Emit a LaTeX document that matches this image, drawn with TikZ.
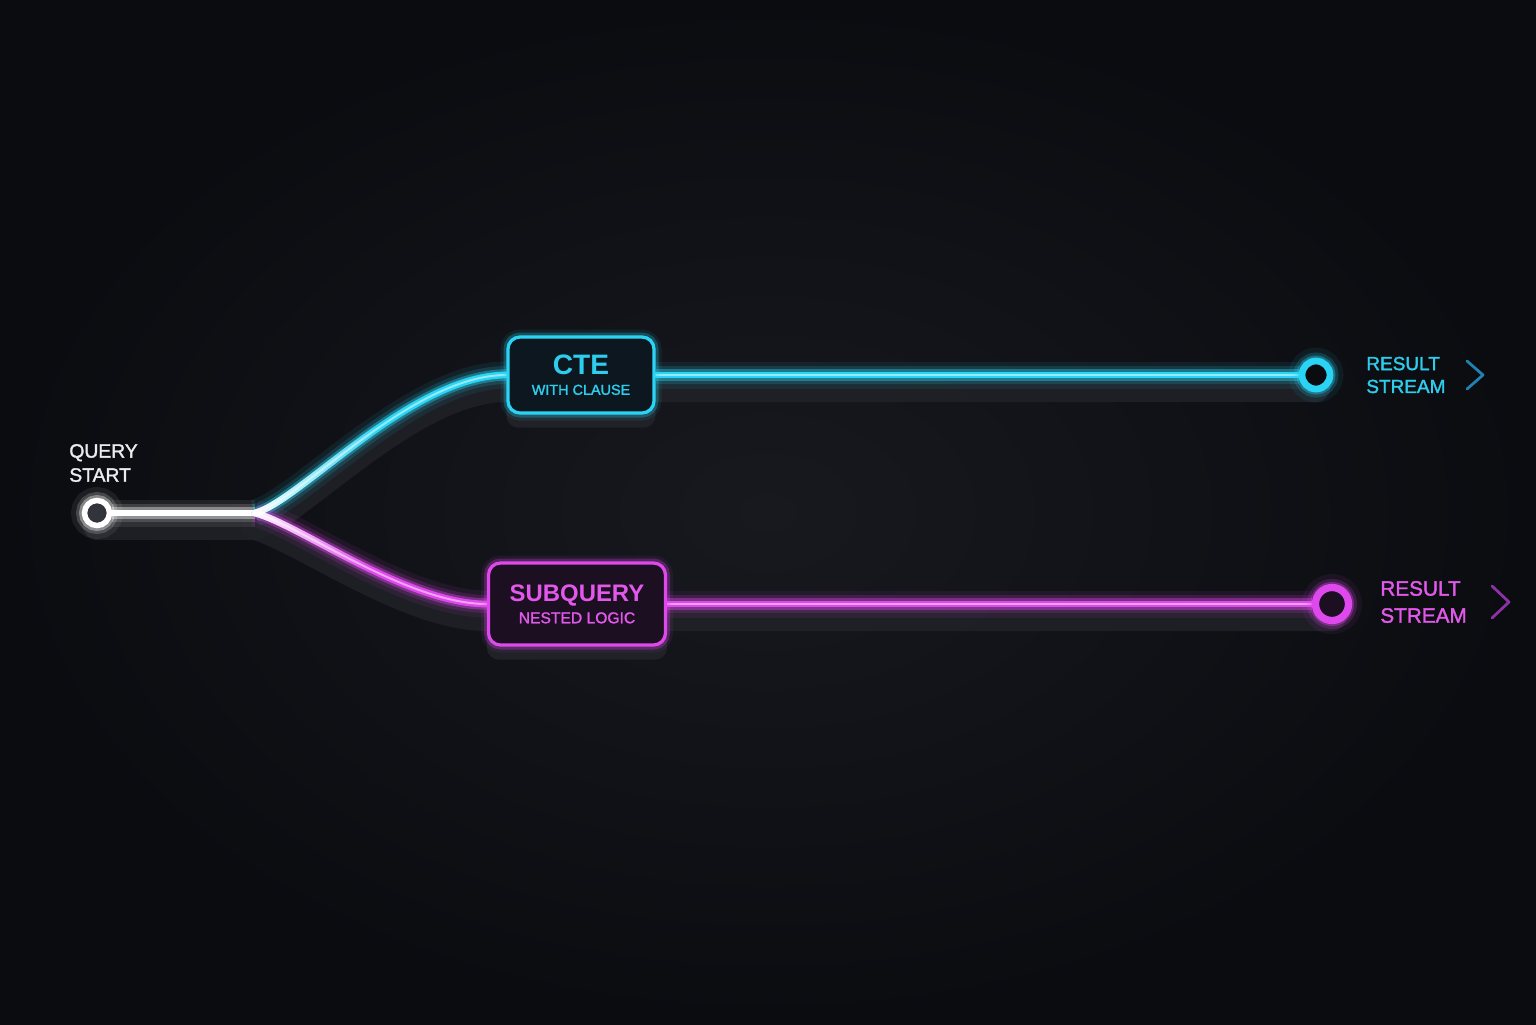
\documentclass[tikz,border=0pt]{standalone}
\usepackage{fontspec}
\setmainfont{Liberation Sans}
\newfontface\medfont{Liberation Sans}[FakeBold=1.6]
\usetikzlibrary{positioning,calc,fadings}

\definecolor{bgdark}{RGB}{11,12,16}
\definecolor{bgmid}{RGB}{23,25,31}
\definecolor{slab}{RGB}{32,34,40}
\definecolor{qtext}{RGB}{236,236,240}
\definecolor{ringfill}{RGB}{50,52,60}
\definecolor{cteblue}{RGB}{42,212,245}
\definecolor{ctetext}{RGB}{45,205,238}
\definecolor{ctebox}{RGB}{13,23,31}
\definecolor{subpink}{RGB}{222,72,236}
\definecolor{subtext}{RGB}{226,88,234}
\definecolor{subbox}{RGB}{27,15,33}
\definecolor{chevblue}{RGB}{32,130,180}
\definecolor{chevpink}{RGB}{140,50,165}

\pgfdeclarelayer{bg}
\pgfdeclarelayer{glow}
\pgfsetlayers{bg,glow,main}

\tikzfading[name=forkfade, left color=transparent!0, right color=transparent!100, middle color=transparent!100]

\tikzset{
  neon/.style={draw=#1, line width=1.35mm, line cap=round,
    preaction={draw=#1, line width=5.4mm, opacity=0.08},
    preaction={draw=#1, line width=3.6mm, opacity=0.15},
    preaction={draw=#1, line width=2.3mm, opacity=0.38},
    postaction={draw=#1!50!white, line width=0.4mm}},
  slabline/.style={draw=slab, line width=5.6mm, line cap=round, opacity=0.85},
  qbox/.style={draw=#1, line width=0.65mm, rounded corners=2.4mm, inner sep=0pt, align=center,
    preaction={draw=#1, line width=3mm, opacity=0.08},
    preaction={draw=#1, line width=1.8mm, opacity=0.25}},
  ring/.style={circle, draw=#1, inner sep=0pt,
    preaction={draw=#1, line width=5.4mm, opacity=0.07},
    preaction={draw=#1, line width=3.4mm, opacity=0.18},
    preaction={draw=#1, line width=2.2mm, opacity=0.35}},
  lbl/.style={anchor=west, align=left, inner sep=0pt},
  chev/.style={draw=#1, line width=0.55mm, line cap=round, line join=round}
}

\begin{document}
\begin{tikzpicture}[x=0.2mm, y=-0.2mm]
  \useasboundingbox (0,0) rectangle (1536,1024);
  \begin{pgfonlayer}{bg}
    \fill[bgdark] (0,0) rectangle (1536,1024);
    \shade[inner color=bgmid, outer color=bgdark] (0,0) rectangle (1536,1024);
  \end{pgfonlayer}

  % start of the query
  \node[ring=white, fill=ringfill, minimum size=5mm, line width=1.1mm] (start) at (97,513) {};
  \node[lbl, text=qtext, font=\medfont\fontsize{11}{13.7}\selectfont] (qstart) at (69,463) {QUERY\\START};
  \coordinate (fork) at (255,513);

  % the two branches
  \node[qbox=cteblue, fill=ctebox, minimum width=29.2mm, minimum height=15.2mm,
        font=\medfont\fontsize{8.2}{11.4}\selectfont, text=ctetext] (cte) at (581,375)
        {{\fontsize{16}{16}\selectfont\rmfamily\bfseries CTE}\\WITH CLAUSE};
  \node[qbox=subpink, fill=subbox, minimum width=35.4mm, minimum height=16.4mm,
        font=\medfont\fontsize{8.9}{12.5}\selectfont, text=subtext] (sub) at (577,604)
        {{\fontsize{13.6}{14}\selectfont\rmfamily\bfseries SUBQUERY}\\NESTED LOGIC};

  % result ends
  \node[ring=cteblue, fill=bgdark, minimum size=5.6mm, line width=1.35mm] (endc) at (1316,375) {};
  \node[ring=subpink, fill=subbox, minimum size=6.6mm, line width=1.45mm] (endm) at (1332,604) {};
  \node[lbl, text=ctetext, font=\medfont\fontsize{10.8}{13}\selectfont] (resc) at (1366,375) {RESULT\\STREAM};
  \node[lbl, text=subtext, font=\medfont\fontsize{11.8}{15.4}\selectfont] (resm) at (1380,602) {RESULT\\STREAM};
  \coordinate (chevc) at (1483,375);
  \coordinate (chevm) at (1509,602);
  \draw[chev=chevblue] ([shift={(-16,-14)}]chevc) -- (chevc) -- ([shift={(-16,14)}]chevc);
  \draw[chev=chevpink] ([shift={(-17,-16)}]chevm) -- (chevm) -- ([shift={(-17,16)}]chevm);

  % raised slabs under the tracks
  \begin{pgfonlayer}{bg}
    \begin{scope}[transform canvas={yshift=-2.6mm}]
      \draw[slabline] (start.center) -- (fork);
      \draw[slabline] (fork) .. controls +(45,-12) and +(-95,0) .. (cte.west) -- (endc.center);
      \draw[slabline] (fork) .. controls +(45,12) and +(-80,0) .. (sub.west) -- (endm.center);
      \fill[slab, rounded corners=2.4mm] (cte.south west) rectangle (cte.north east);
      \fill[slab, rounded corners=2.4mm] (sub.south west) rectangle (sub.north east);
    \end{scope}
  \end{pgfonlayer}

  % glowing tracks
  \begin{pgfonlayer}{glow}
    \draw[neon=white] (start) -- (fork);
    \draw[neon=cteblue] (fork) .. controls +(45,-12) and +(-95,0) .. (cte.west);
    \draw[neon=subpink] (fork) .. controls +(45,12) and +(-80,0) .. (sub.west);
    \draw[white, line width=1.35mm, line cap=round, path fading=forkfade]
      (fork) .. controls +(45,-12) and +(-95,0) .. (cte.west);
    \draw[white, line width=1.35mm, line cap=round, path fading=forkfade]
      (fork) .. controls +(45,12) and +(-80,0) .. (sub.west);
    \draw[neon=cteblue] (cte.east) -- (endc);
    \draw[neon=subpink] (sub.east) -- (endm);
  \end{pgfonlayer}
\end{tikzpicture}
\end{document}
